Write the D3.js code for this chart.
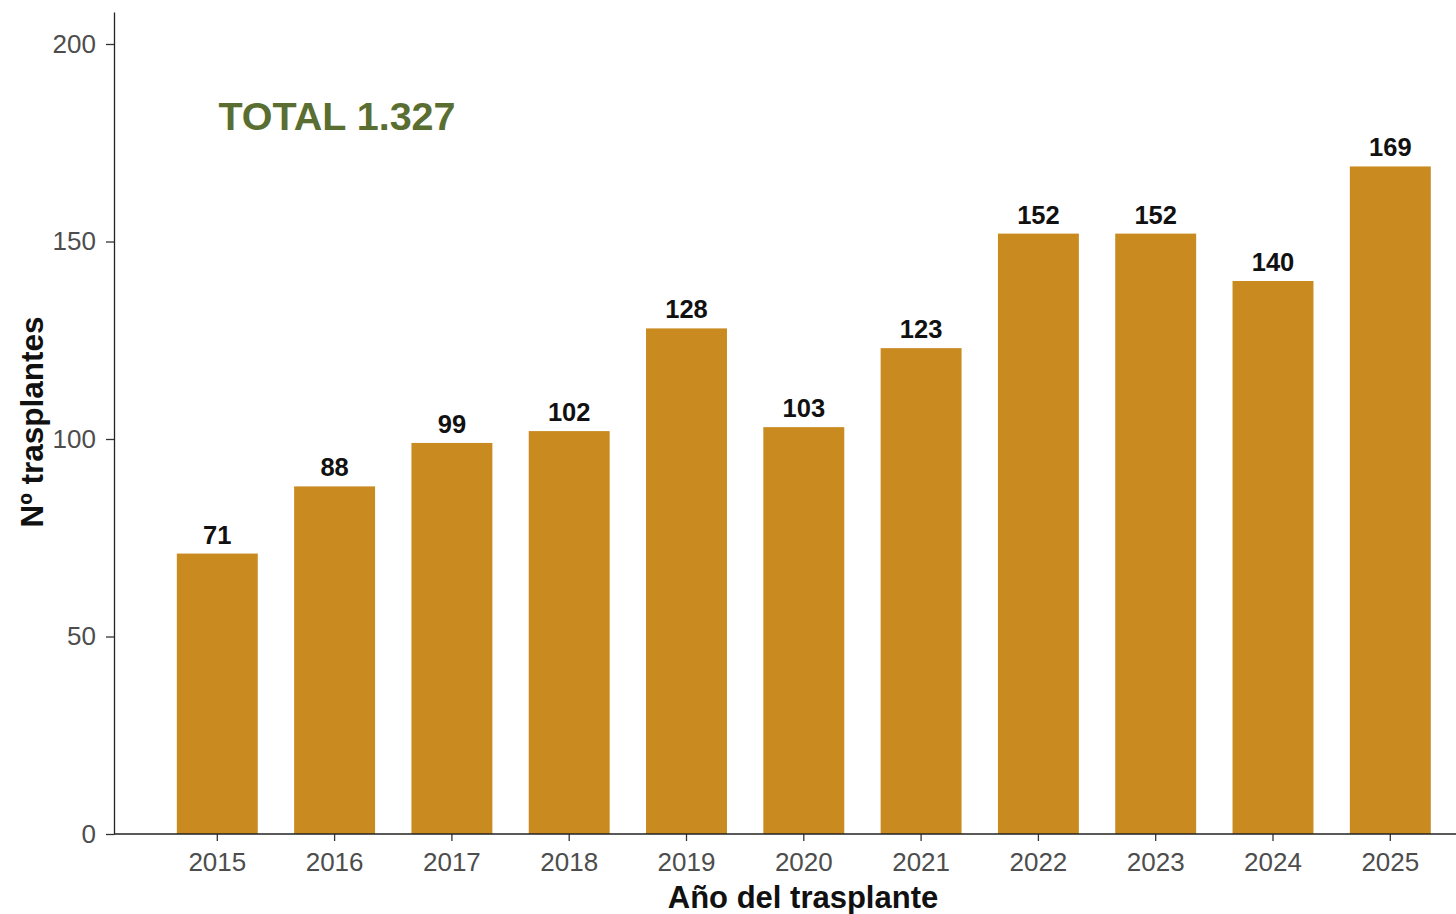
<!DOCTYPE html>
<html>
<head>
<meta charset="utf-8">
<script src="https://cdn.jsdelivr.net/npm/d3@7"></script>
<style>
  body { margin: 0; background: #fff; }
  text { font-family: "Liberation Sans", Arial, sans-serif; }
</style>
</head>
<body>
<div class="chart"></div>
<script>
// data
var years = ["2015", "2016", "2017", "2018", "2019", "2020", "2021", "2022", "2023", "2024", "2025"];
var transplants = [71, 88, 99, 102, 128, 103, 123, 152, 152, 140, 169];
var yTicks = [0, 50, 100, 150, 200];
var totalLabel = "TOTAL 1.327";

var svgWidth = 1456;
var svgHeight = 914;

var svg = d3.select(".chart")
  .append("svg")
  .attr("width", svgWidth)
  .attr("height", svgHeight);

// scales
var yScale = d3.scaleLinear()
  .domain([0, 208.1])
  .range([834, 12]);

var step = 117.3;
var xScale = d3.scaleBand()
  .domain(years)
  .range([217.3 - step / 2, 217.3 + step * 10.5])
  .paddingInner(0.31)
  .paddingOuter(0.155);

// bars
svg.append("g")
  .selectAll("rect")
  .data(transplants)
  .enter()
  .append("rect")
  .attr("x", function(d, i) { return xScale(years[i]); })
  .attr("y", function(d) { return yScale(d); })
  .attr("width", xScale.bandwidth())
  .attr("height", function(d) { return yScale(0) - yScale(d); })
  .attr("fill", "#C98A20");

// value labels
svg.append("g")
  .selectAll("text")
  .data(transplants)
  .enter()
  .append("text")
  .attr("x", function(d, i) { return xScale(years[i]) + xScale.bandwidth() / 2; })
  .attr("y", function(d) { return yScale(d) - 10; })
  .attr("text-anchor", "middle")
  .attr("font-size", 25.5)
  .attr("font-weight", "bold")
  .attr("fill", "#111")
  .text(function(d) { return d; });

// axes
var xAxis = svg.append("g")
  .attr("transform", "translate(0,834)")
  .call(d3.axisBottom(xScale).tickSize(7).tickSizeOuter(0));
xAxis.select(".domain").remove();
xAxis.append("line")
  .attr("x1", 114).attr("x2", svgWidth)
  .attr("stroke", "#222").attr("stroke-width", 1.3);
xAxis.selectAll(".tick line").attr("stroke", "#333").attr("stroke-width", 1.3);
xAxis.selectAll(".tick text")
  .attr("font-size", 26)
  .attr("fill", "#4D4D4D")
  .attr("dy", "1.02em");

var yAxis = svg.append("g")
  .attr("transform", "translate(114,0)")
  .call(d3.axisLeft(yScale).tickValues(yTicks).tickSize(8).tickSizeOuter(0));
yAxis.select(".domain").attr("stroke", "#222").attr("stroke-width", 1.3);
yAxis.selectAll(".tick line").attr("stroke", "#333").attr("stroke-width", 1.3);
yAxis.selectAll(".tick text")
  .attr("font-size", 26)
  .attr("fill", "#4D4D4D")
  .attr("x", -18);

// axis titles
svg.append("text")
  .attr("x", 803)
  .attr("y", 908)
  .attr("text-anchor", "middle")
  .attr("font-size", 31)
  .attr("font-weight", "bold")
  .attr("fill", "#111")
  .text("Año del trasplante");

svg.append("text")
  .attr("transform", "translate(43,422) rotate(-90)")
  .attr("text-anchor", "middle")
  .attr("font-size", 31.5)
  .attr("font-weight", "bold")
  .attr("fill", "#111")
  .text("Nº trasplantes");

// total annotation
svg.append("text")
  .attr("x", 337)
  .attr("y", 130)
  .attr("text-anchor", "middle")
  .attr("font-size", 39.5)
  .attr("font-weight", "bold")
  .attr("fill", "#5A6E32")
  .text(totalLabel);
</script>
</body>
</html>
